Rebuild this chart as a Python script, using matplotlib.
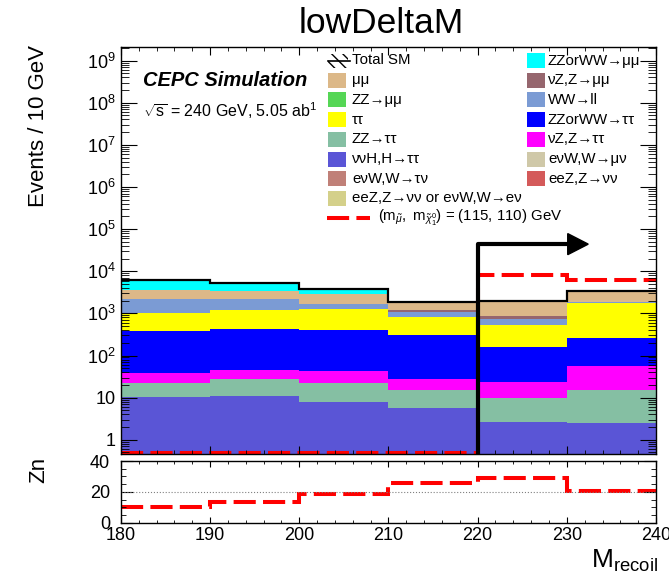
import numpy as np
import matplotlib
matplotlib.use("Agg")
import matplotlib.pyplot as plt
from matplotlib.patches import Rectangle, Polygon
from matplotlib.lines import Line2D
from matplotlib.ticker import FixedLocator, LogLocator, MultipleLocator, FuncFormatter, NullFormatter

plt.rcParams['font.family'] = ['Liberation Sans', 'DejaVu Sans']
plt.rcParams['mathtext.fontset'] = 'custom'
plt.rcParams['mathtext.rm'] = 'Liberation Sans'
plt.rcParams['mathtext.it'] = 'Liberation Sans:italic'
plt.rcParams['mathtext.bf'] = 'Liberation Sans:bold'
plt.rcParams['hatch.linewidth'] = 1.0

# bins of M_recoil [GeV]
edges = [180, 190, 200, 210, 220, 230, 240]

# background yields per bin (events / 10 GeV)
nnH_tautau = [10.2, 11.2, 7.7, 5.6, 2.7, 2.5]
zz_tautau = [12.2, 16.7, 14.7, 9.7, 6.9, 13.0]
nuz_tautau = [16.3, 17.7, 19.9, 12.6, 13.4, 40.1]
zzww_tautau = [340, 386, 367, 271, 135, 202]
tautau = [661, 748, 836, 518, 360, 1502]
ww_ll = [1197, 970, 455, 257, 230, 70]
nuz_mumu = [5, 5, 10, 104, 101, 50]
mumu = [1290, 1245, 1235, 680, 1081, 1460]
zzww_mumu = [2570, 1980, 780, 0, 0, 0]
zz_mumu = [0, 0, 0, 0, 0, 0]
enuw_taunu = [0, 0, 0, 0, 0, 0]
eez_or_enuw_enu = [0, 0, 0, 0, 0, 0]
enuw_munu = [0, 0, 0, 0, 0, 0]
eez_nunu = [0, 0, 0, 0, 0, 0]

# signal (m_smuon, m_chi) = (115, 110) GeV
signal = [0, 0, 0, 0, 8350, 6330]
# significance
zn = [10.4, 13.4, 18.5, 25.5, 29.2, 20.5]

cut = 220

colors = {
    "mumu": "#dcb888",
    "zz_mumu": "#55d655",
    "tautau": "#ffff00",
    "zz_tautau": "#85bfa3",
    "nnH_tautau": "#5a55d6",
    "enuw_taunu": "#c08078",
    "eez_or_enuw_enu": "#d4d08a",
    "zzww_mumu": "#00ffff",
    "nuz_mumu": "#96666e",
    "ww_ll": "#7b9bd4",
    "zzww_tautau": "#0000ff",
    "nuz_tautau": "#ff00ff",
    "enuw_munu": "#cfc8a8",
    "eez_nunu": "#d45a5a",
}

# stacking order, bottom first
stack = [
    (nnH_tautau, "nnH_tautau"),
    (zz_tautau, "zz_tautau"),
    (nuz_tautau, "nuz_tautau"),
    (zzww_tautau, "zzww_tautau"),
    (tautau, "tautau"),
    (ww_ll, "ww_ll"),
    (nuz_mumu, "nuz_mumu"),
    (zz_mumu, "zz_mumu"),
    (enuw_taunu, "enuw_taunu"),
    (eez_or_enuw_enu, "eez_or_enuw_enu"),
    (enuw_munu, "enuw_munu"),
    (eez_nunu, "eez_nunu"),
    (mumu, "mumu"),
    (zzww_mumu, "zzww_mumu"),
]

legend_left = [
    ("Total SM", None),
    ("μμ", "mumu"),
    ("ZZ→μμ", "zz_mumu"),
    ("ττ", "tautau"),
    ("ZZ→ττ", "zz_tautau"),
    ("ννH,H→ττ", "nnH_tautau"),
    ("eνW,W→τν", "enuw_taunu"),
    ("eeZ,Z→νν or eνW,W→eν", "eez_or_enuw_enu"),
]
legend_right = [
    ("ZZorWW→μμ", "zzww_mumu"),
    ("νZ,Z→μμ", "nuz_mumu"),
    ("WW→ll", "ww_ll"),
    ("ZZorWW→ττ", "zzww_tautau"),
    ("νZ,Z→ττ", "nuz_tautau"),
    ("eνW,W→μν", "enuw_munu"),
    ("eeZ,Z→νν", "eez_nunu"),
]
signal_label = r'$(\mathregular{m}_{\tilde{\mu}},\ \mathregular{m}_{\tilde{\chi}^{0}_{1}})$ = (115, 110) GeV'

W, H = 669, 575
def fx(px):
    return px / W
def fy(py):
    return 1 - py / H

fig = plt.figure(figsize=(W / 100, H / 100), dpi=100)
ax = fig.add_axes([fx(121), fy(454), (656 - 121) / W, (454 - 47) / H])
axr = fig.add_axes([fx(121), fy(522.7), (656 - 121) / W, (522.7 - 461) / H])

ymin, ymax = 0.46, 2.1e9
ax.set_yscale("log")

# stacked backgrounds
bottom = np.full(len(edges) - 1, 1e-3)
for vals, key in stack:
    top = bottom + np.array(vals, dtype=float)
    ax.stairs(top, edges, baseline=bottom, fill=True, color=colors[key], lw=0)
    bottom = top
total = bottom
ax.stairs(total, edges, baseline=None, color="black", lw=1.6)

# signal, empty bins drawn on the frame bottom like ROOT does
sig_draw = np.maximum(np.array(signal, dtype=float), ymin * 1.08)
ax.stairs(sig_draw, edges, baseline=None, color="red", lw=2.9, linestyle=(0, (5.5, 1.8)))

# cut arrow
arrow_y = 4.4e4
ax.plot([cut, cut, 230.1], [ymin, arrow_y, arrow_y], color="black", lw=3, solid_capstyle="butt", zorder=5)
ax.add_patch(Polygon([[230.1, arrow_y * 10 ** 0.25], [232.4, arrow_y], [230.1, arrow_y / 10 ** 0.25]],
                     closed=True, color="black", zorder=5))

ax.set_xlim(edges[0], edges[-1])
ax.set_ylim(ymin, ymax)
ax.yaxis.set_major_locator(FixedLocator([10.0 ** k for k in range(10)]))
ax.yaxis.set_minor_locator(LogLocator(base=10, subs=np.arange(2, 10), numticks=100))
ax.yaxis.set_minor_formatter(NullFormatter())

def ylab(v, pos):
    k = int(round(np.log10(v)))
    if k == 0:
        return "1"
    if k == 1:
        return "10"
    return r"$\mathregular{10^{%d}}$" % k
ax.yaxis.set_major_formatter(FuncFormatter(ylab))
ax.xaxis.set_major_locator(MultipleLocator(10))
ax.xaxis.set_minor_locator(MultipleLocator(2))
ax.tick_params(which="both", direction="in", top=True, right=True, labelbottom=False, labelsize=13, pad=4)
ax.tick_params(axis="y", which="major", length=11.5)
ax.tick_params(axis="y", which="minor", length=5.8)
ax.tick_params(axis="x", which="major", length=5.8)
ax.tick_params(axis="x", which="minor", length=2.9)

# ratio panel
axr.stairs(zn, edges, baseline=None, color="red", lw=2.9, linestyle=(0, (5.5, 1.8)))
axr.axhline(20, color="gray", ls=":", lw=0.8)
axr.set_xlim(edges[0], edges[-1])
axr.set_ylim(0, 40)
axr.yaxis.set_major_locator(FixedLocator([0, 20, 40]))
axr.yaxis.set_minor_locator(MultipleLocator(5))
axr.xaxis.set_major_locator(MultipleLocator(10))
axr.xaxis.set_minor_locator(MultipleLocator(2))
axr.tick_params(which="both", direction="in", top=True, right=True, labelsize=13)
axr.tick_params(axis="x", which="major", length=4.3, pad=3)
axr.tick_params(axis="x", which="minor", length=2.2)
axr.tick_params(axis="y", which="major", length=8.6, pad=8)
axr.tick_params(axis="y", which="minor", length=3.6)

for a in (ax, axr):
    for s in a.spines.values():
        s.set_linewidth(1.0)

# texts
fig.text(fx(381), fy(33), "lowDeltaM", ha="center", va="baseline", fontsize=25.5)
fig.text(fx(39), fy(45), "Events / 10 GeV", rotation=90, ha="center", va="top", fontsize=16)
fig.text(fx(39), fy(457), "Zn", rotation=90, ha="center", va="top", fontsize=16)
fig.text(fx(658), fy(568), r"M$_{\mathregular{recoil}}$", ha="right", va="baseline", fontsize=19)
fig.text(fx(143), fy(86.5), "CEPC Simulation", ha="left", va="baseline", fontsize=14.5,
         fontweight="bold", fontstyle="italic")
fig.text(fx(143), fy(117), r"$\sqrt{\mathregular{s}}$ = 240 GeV, 5.05 ab$^{\mathregular{1}}$",
         ha="left", va="baseline", fontsize=11.5)

# legend, drawn by hand in ROOT layout
row0, pitch = 60.5, 19.7
leg_fs = 10.8
def legend_box(x, y, key):
    fig.add_artist(Rectangle((fx(x), fy(y + 7.5)), 18 / W, 15 / H, transform=fig.transFigure,
                             facecolor=colors[key], edgecolor="none"))

for i, (label, key) in enumerate(legend_left):
    y = row0 + i * pitch
    if key is None:
        fig.add_artist(Rectangle((fx(328), fy(y + 7)), 20 / W, 14 / H, transform=fig.transFigure,
                                 facecolor="none", edgecolor="black", hatch="\\\\\\", lw=0))
        fig.add_artist(Line2D([fx(328), fx(350)], [fy(y), fy(y)], transform=fig.transFigure,
                              color="black", lw=1.2))
    else:
        legend_box(328, y, key)
    fig.text(fx(352), fy(y), label, ha="left", va="center", fontsize=leg_fs)

for i, (label, key) in enumerate(legend_right):
    y = row0 + i * pitch
    legend_box(527, y, key)
    fig.text(fx(548), fy(y), label, ha="left", va="center", fontsize=leg_fs)

y_sig = row0 + len(legend_left) * pitch
fig.add_artist(Line2D([fx(327), fx(370)], [fy(y_sig), fy(y_sig)], transform=fig.transFigure,
                      color="red", lw=2.9, linestyle=(0, (5.5, 1.8))))
fig.text(fx(378), fy(y_sig), signal_label, ha="left", va="center", fontsize=leg_fs)

fig.savefig("out.png", dpi=100)
